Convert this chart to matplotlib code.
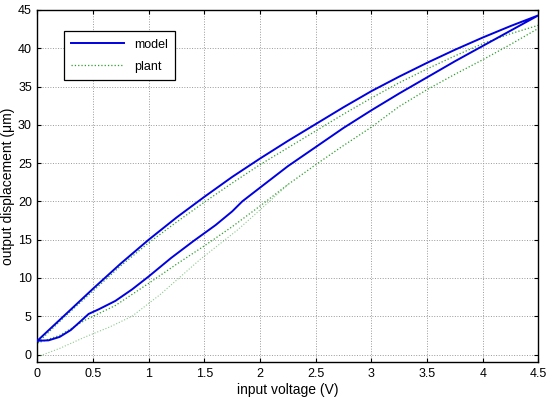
import numpy as np
import matplotlib
matplotlib.use('Agg')
import matplotlib.pyplot as plt

plt.rcParams['font.family'] = ['Liberation Sans', 'DejaVu Sans']

# model: rising branch (lower) and falling branch (upper)
model_up_x = [0, 0.1, 0.2, 0.3, 0.4, 0.46, 0.55, 0.7, 0.85, 1.0, 1.2, 1.4, 1.6, 1.75, 1.84,
              2.0, 2.25, 2.5, 2.75, 3.0, 3.25, 3.5, 3.75, 4.0, 4.25, 4.5]
model_up_y = [1.8, 1.85, 2.3, 3.2, 4.5, 5.3, 5.9, 7.0, 8.5, 10.2, 12.6, 14.8, 16.9, 18.7, 20.0,
              21.8, 24.6, 27.1, 29.6, 31.9, 34.1, 36.2, 38.3, 40.3, 42.3, 44.3]
model_dn_x = [4.5, 4.25, 4.0, 3.75, 3.5, 3.25, 3.0, 2.75, 2.5, 2.25, 2.0, 1.75, 1.5,
              1.25, 1.0, 0.75, 0.5, 0.25, 0]
model_dn_y = [44.3, 42.9, 41.4, 39.8, 38.1, 36.3, 34.4, 32.3, 30.1, 27.9, 25.6, 23.2, 20.6,
              17.9, 15.0, 11.9, 8.6, 5.2, 1.8]

# plant: initial loading curve, falling branch, rising branch
plant_init_x = [0, 0.2, 0.43, 0.65, 0.85, 1.1, 1.46, 1.8, 2.1, 2.25]
plant_init_y = [-0.3, 0.8, 2.3, 3.6, 5.0, 7.8, 12.4, 16.3, 20.2, 22.2]
plant_dn_x = [4.5, 4.25, 4.0, 3.75, 3.5, 3.25, 3.0, 2.75, 2.5, 2.25, 2.0, 1.75, 1.5,
              1.25, 1.0, 0.75, 0.5, 0.25, 0]
plant_dn_y = [43.0, 41.9, 40.6, 39.0, 37.3, 35.5, 33.5, 31.4, 29.2, 27.0, 24.8, 22.4, 19.9,
              17.3, 14.6, 11.6, 8.3, 5.0, 1.5]
plant_up_x = [0, 0.2, 0.43, 0.7, 1.0, 1.25, 1.5, 1.75, 2.0, 2.25, 2.5, 2.75, 3.0, 3.25,
              3.5, 3.75, 4.0, 4.25, 4.5]
plant_up_y = [1.5, 2.5, 4.5, 6.4, 9.3, 11.8, 14.2, 16.7, 19.4, 22.2, 24.8, 27.3, 29.7, 32.4,
              34.6, 36.6, 38.5, 40.5, 42.6]

fig = plt.figure(figsize=(5.5, 3.98), dpi=100)
ax = fig.add_axes([0.068, 0.09, 0.911, 0.885])

ax.plot(model_up_x + model_dn_x, model_up_y + model_dn_y, color='#0000e0', lw=1.4,
        label='model', zorder=3)
ax.plot(plant_init_x, plant_init_y, color='#2e9e2e', lw=0.8, ls=':', alpha=0.55, zorder=2)
ax.plot(plant_up_x + plant_dn_x, plant_up_y + plant_dn_y, color='#2e9e2e', lw=0.9, ls=':',
        label='plant', zorder=2)

ax.set_xlim(0, 4.5)
ax.set_ylim(-1, 45)
ax.set_xticks(np.arange(0, 4.51, 0.5))
ax.set_xticklabels(['0', '0.5', '1', '1.5', '2', '2.5', '3', '3.5', '4', '4.5'])
ax.set_yticks(np.arange(0, 46, 5))
ax.tick_params(direction='in', top=True, right=True, labelsize=9, length=3, pad=4)
ax.grid(True, ls=':', color='#999999', lw=0.7)
for s in ax.spines.values():
    s.set_linewidth(1.0)

ax.set_xlabel('input voltage (V)', fontsize=10, labelpad=2)
ax.set_ylabel('output displacement (\u03bcm)', fontsize=10, labelpad=2)

leg = ax.legend(loc='upper left', bbox_to_anchor=(0.053, 0.94), borderaxespad=0,
                fontsize=9, handlelength=4.2, labelspacing=0.8, borderpad=0.6,
                fancybox=False, framealpha=1, edgecolor='black')
leg.get_frame().set_linewidth(0.9)

fig.savefig('out.png', dpi=100)
